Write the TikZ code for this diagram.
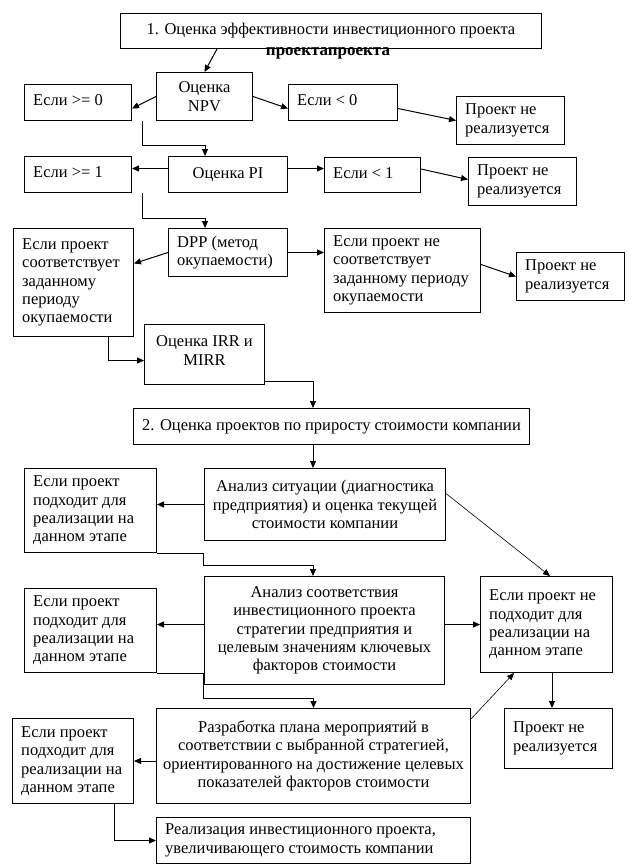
\documentclass[tikz,border=0pt]{standalone}
\usepackage{fontspec}
\setmainfont{Liberation Serif}
\usetikzlibrary{arrows.meta,calc}
\newcommand\fs{\fontsize{16.5pt}{18.4pt}\selectfont}
\tikzset{
  box/.style={draw, line width=1pt, inner sep=0pt, anchor=north west, align=center, font=\fs},
  lt/.style={anchor=west, xshift=9pt, align=left, font=\fs, inner sep=0pt},
  ct/.style={anchor=center, align=center, font=\fs, inner sep=0pt},
  conn/.style={line width=1pt, -{Triangle[length=7pt,width=6pt]}},
  thinconn/.style={line width=0.6pt, -{Triangle[length=7pt,width=6pt]}},
}
\begin{document}
\begin{tikzpicture}[x=1pt,y=-1pt]
\fill[white] (0,0) rectangle (637,865);
\useasboundingbox (0,0) rectangle (637,865);

% row 1
\node[box, minimum width=421pt, minimum height=35pt] (B1) at (120,13) {1. Оценка эффективности инвестиционного проекта};
\node[inner sep=0pt, font=\fontsize{17pt}{17pt}\selectfont\bfseries] (T) at (328,53) {проектапроекта};
\node[box, minimum width=96pt, minimum height=48pt] (NPV) at (156,72) {Оценка\\NPV};
\node[box, minimum width=107pt, minimum height=36pt, label={[lt,yshift=2pt]west:{Если >= 0}}] (E0) at (24,84) {};
\node[box, minimum width=109pt, minimum height=36pt, label={[lt,yshift=2pt]west:{Если < 0}}] (L0) at (288,84) {};
\node[box, minimum width=108pt, minimum height=48pt, label={[lt]west:{Проект не\\реализуется}}] (P1) at (456,96) {};

% row 2
\node[box, minimum width=107pt, minimum height=36pt, label={[lt,yshift=2pt]west:{Если >= 1}}] (E1) at (24,156) {};
\node[box, minimum width=119pt, minimum height=36pt] (PI) at (168,156) {Оценка PI};
\node[box, minimum width=96pt, minimum height=35pt, label={[lt,yshift=2pt]west:{Если < 1}}] (L1) at (324,157) {};
\node[box, minimum width=108pt, minimum height=48pt, label={[lt]west:{Проект не\\реализуется}}] (P2) at (468,157) {};

% row 3
\node[box, minimum width=120pt, minimum height=108pt, label={[lt]west:{Если проект\\соответствует\\заданному\\периоду\\окупаемости}}] (E2) at (13,228) {};
\node[box, minimum width=119pt, minimum height=48pt, label={[lt]west:{DPP (метод\\окупаемости)}}] (DPP) at (168,228) {};
\node[box, minimum width=156pt, minimum height=84pt, label={[lt]west:{Если проект не\\соответствует\\заданному периоду\\окупаемости}}] (L2) at (324,228) {};
\node[box, minimum width=108pt, minimum height=48pt, label={[lt]west:{Проект не\\реализуется}}] (P3) at (516,252) {};

\node[box, minimum width=120pt, minimum height=60pt, label={[ct,yshift=4pt]center:{Оценка IRR и\\MIRR}}] (IRR) at (144,324) {};

% stage 2
\node[box, minimum width=396pt, minimum height=36pt] (S2) at (133,408) {2. Оценка проектов по приросту стоимости компании};
\node[box, minimum width=241pt, minimum height=72pt] (A1) at (204,468) {Анализ ситуации (диагностика\\предприятия) и оценка текущей\\стоимости компании};
\node[box, minimum width=132pt, minimum height=84pt, label={[lt]west:{Если проект\\подходит для\\реализации на\\данном этапе}}] (F1) at (24,468) {};
\node[box, minimum width=240pt, minimum height=108pt] (A2) at (204,576) {Анализ соответствия\\инвестиционного проекта\\стратегии предприятия и\\целевым значениям ключевых\\факторов стоимости};
\node[box, minimum width=132pt, minimum height=96pt, label={[lt]west:{Если проект не\\подходит для\\реализации на\\данном этапе}}] (N1) at (480,576) {};
\node[box, minimum width=132pt, minimum height=84pt, label={[lt]west:{Если проект\\подходит для\\реализации на\\данном этапе}}] (F2) at (24,588) {};
\node[box, minimum width=314pt, minimum height=95pt] (A3) at (156,708) {Разработка плана мероприятий в\\соответствии с выбранной стратегией,\\ориентированного на достижение целевых\\показателей факторов стоимости};
\node[box, minimum width=108pt, minimum height=60pt, label={[lt]west:{Проект не\\реализуется}}] (P4) at (504,708) {};
\node[box, minimum width=121pt, minimum height=85pt, label={[lt]west:{Если проект\\подходит для\\реализации на\\данном этапе}}] (F3) at (12,718) {};
\node[box, minimum width=314pt, minimum height=46pt, label={[lt]west:{Реализация инвестиционного проекта,\\увеличивающего стоимость компании}}] (A4) at (156,817) {};

% connectors
\draw[conn] ([xshift=97pt]B1.south west) -- (NPV.north);
\draw[conn] (NPV.west) -- ([yshift=-6pt]E0.east);
\draw[conn] (NPV.east) -- ([yshift=-6pt]L0.west);
\draw[conn] ([yshift=-6pt]L0.east) -- (P1.west);
\draw[conn] ([xshift=118pt]E0.south west) -- ++(0,24) -| ([xshift=37pt]PI.north west);
\draw[conn] ([yshift=6pt]PI.west) -- ([yshift=6pt]E1.east);
\draw[conn] ([yshift=6pt]PI.east) -- ([yshift=6pt]PI.east -| L1.west);
\draw[conn] ([yshift=6pt]L1.east) -- ([yshift=2pt]P2.west);
\draw[conn] ([xshift=118pt]E1.south west) -- ++(0,25) -| ([xshift=37pt]DPP.north west);
\draw[conn] (DPP.west) -- ([yshift=19pt]E2.east);
\draw[conn] (DPP.east) -- (DPP.east -| L2.west);
\draw[conn] ([yshift=6pt]L2.east) -- (P3.west);
\draw[conn] ([xshift=95pt]E2.south west) |- ([yshift=-6pt]IRR.west);
\draw[conn] ([yshift=-27pt]IRR.east) -| ([xshift=180pt]S2.north west);
\draw[conn] ([xshift=180pt]S2.south west) -- ([xshift=109pt]A1.north west);
\draw[conn] (A1.west) -- (A1.west -| F1.east);
\draw[conn] (F1.south east) -- ++(46,0) -- ++(0,12) -| ([xshift=109pt]A2.north west);
\draw[thinconn] ([yshift=11pt]A1.east) -- ([xshift=70pt]N1.north west);
\draw[conn] ([yshift=6pt]A2.west) -- ([yshift=6pt]A2.west -| F2.east);
\draw[conn] ([yshift=6pt]A2.east) -- ([yshift=6pt]A2.east -| N1.west);
\draw[conn] (F2.south east) -- ++(46,0) -- ++(0,25) -| (A3.north);
\draw[thinconn] ([yshift=-11pt]A3.north east) -- ([xshift=34pt]N1.south west);
\draw[conn] ([xshift=72pt]N1.south west) -- ([xshift=48pt]P4.north west);
\draw[conn] (F3.east -| A3.west) -- (F3.east);
\draw[conn] ([xshift=102pt]F3.south west) |- (A4.west);
\end{tikzpicture}
\end{document}
